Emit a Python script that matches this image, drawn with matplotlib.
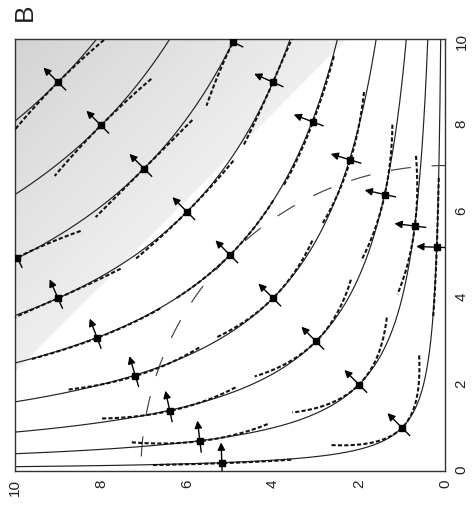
import numpy as np
import matplotlib
matplotlib.use("Agg")
import matplotlib.pyplot as plt

plt.rcParams['font.family'] = ['Liberation Sans', 'DejaVu Sans']
plt.rcParams['lines.scale_dashes'] = False

# ---------------- data ----------------
curve_levels = [1, 4, 9, 16, 25, 36, 49, 64, 81]          # solid level curves  h*v = c
# sample points (horizontal value, vertical value)
pts_h = [1, 2, 3, 4, 5, 6, 7, 8, 9,
         5.19, 5.70, 6.40, 7.20, 8.09, 9.00, 9.95,
         0.19, 0.70, 1.40, 2.20, 3.07, 4.00, 4.93]
pts_v = [1, 2, 3, 4, 5, 6, 7, 8, 9,
         0.18, 0.69, 1.39, 2.20, 3.08, 4.00, 4.94,
         5.18, 5.67, 6.40, 7.20, 8.08, 9.00, 9.93]
# bending of the dashed local approximation relative to the solid curve
dash_bend = [0.13, 0.10, 0.06, 0.03, 0.0, -0.03, -0.05, -0.07, -0.07,
             0.0, 0.05, 0.04, 0.03, 0.0, -0.03, -0.08,
             0.0, 0.05, 0.04, 0.03, 0.0, -0.03, -0.08]
circle_r2 = 50.0                       # long-dashed boundary  h^2 + v^2 = 50
shade_start = 12.3                     # background shading starts at h + v = 12.3
shade_gray = [0.935, 0.83]             # gray at shading edge and at far corner
tick_values = [0, 2, 4, 6, 8, 10]
tick_labels = ['0', '2', '4', '6', '8', '10']
panel_label = 'B'

# ---------------- figure ----------------
W, H = 477, 508
fig = plt.figure(figsize=(W / 100, H / 100), dpi=100)
ax = fig.add_axes([15 / W, 1 - 471 / H, 430 / W, 432 / H])

# background shading
g = np.linspace(0, 10, 400)
GH, GV = np.meshgrid(g, g)
S = GH + GV
frac = np.clip((S - shade_start) / (20 - shade_start), 0, 1)
gray = np.where(S < shade_start, 1.0, shade_gray[0] + (shade_gray[1] - shade_gray[0]) * frac)
rgb = np.dstack([gray, gray, gray])
ax.imshow(rgb, extent=(0, 10, 0, 10), origin='lower', aspect='auto', zorder=0,
          interpolation='bilinear')
ax.set_xlim(10, 0)
ax.set_ylim(0, 10)

# solid level curves
for c in curve_levels:
    hh = np.geomspace(c / 10.0, 10.0, 500)
    ax.plot(hh, c / hh, color='#222222', lw=0.85, zorder=2)

# long dashed quarter circle
th = np.linspace(0, np.pi / 2, 400)
rr = np.sqrt(circle_r2)
ax.plot(rr * np.cos(th), rr * np.sin(th), color='#444444', lw=0.85,
        linestyle=(19, (14.5, 15)), dash_capstyle='butt', zorder=2)

# dashed local approximations, arrows and dots
arm = 1.62
for h0, v0, d in zip(pts_h, pts_v, dash_bend):
    c = h0 * v0
    t = np.linspace(-2.5, 2.5, 2001)
    hh = h0 * np.exp(t)
    vv = c / hh
    seg = np.hypot(np.diff(hh), np.diff(vv))
    cum = np.concatenate([[0], np.cumsum(seg)])
    i0 = np.argmin(np.abs(t))
    arc = cum - cum[i0]
    keep = np.abs(arc) <= arm
    hh, vv = hh[keep], vv[keep]
    tan = np.array([h0, -v0]) / np.hypot(h0, v0)
    nor = np.array([v0, h0]) / np.hypot(h0, v0)
    s = (hh - h0) * tan[0] + (vv - v0) * tan[1]
    dh = hh + d * s ** 2 * nor[0]
    dv = vv + d * s ** 2 * nor[1]
    ax.plot(dh, dv, color='#111111', lw=1.5, dashes=(3.0, 1.6), zorder=3)
    # normal: arrow outward, short tail inward
    ax.annotate('', xy=(h0 + 0.48 * nor[0], v0 + 0.48 * nor[1]), xytext=(h0, v0),
                arrowprops=dict(arrowstyle='-|>', color='black', lw=1.0,
                                mutation_scale=11, shrinkA=0, shrinkB=0), zorder=4)
    ax.plot([h0, h0 - 0.25 * nor[0]], [v0, v0 - 0.25 * nor[1]], color='black', lw=1.0, zorder=4)
    ax.plot([h0], [v0], marker='s', ms=5, color='black', zorder=5)

# axes styling
ax.set_xticks(tick_values)
ax.set_xticklabels(tick_labels, rotation=90, fontsize=11, color='#222222')
ax.set_yticks(tick_values)
ax.yaxis.tick_right()
ax.set_yticklabels(tick_labels, rotation=90, fontsize=11, color='#222222')
ax.tick_params(axis='x', length=0, pad=6)
ax.tick_params(axis='y', length=0, pad=7)
for sp in ax.spines.values():
    sp.set_color('#333333')
    sp.set_linewidth(1.0)

fig.text(25 / W, 1 - 12.5 / H, panel_label, rotation=90, fontsize=19,
         ha='center', va='center', color='#222222')

fig.savefig('out.png', dpi=100)
